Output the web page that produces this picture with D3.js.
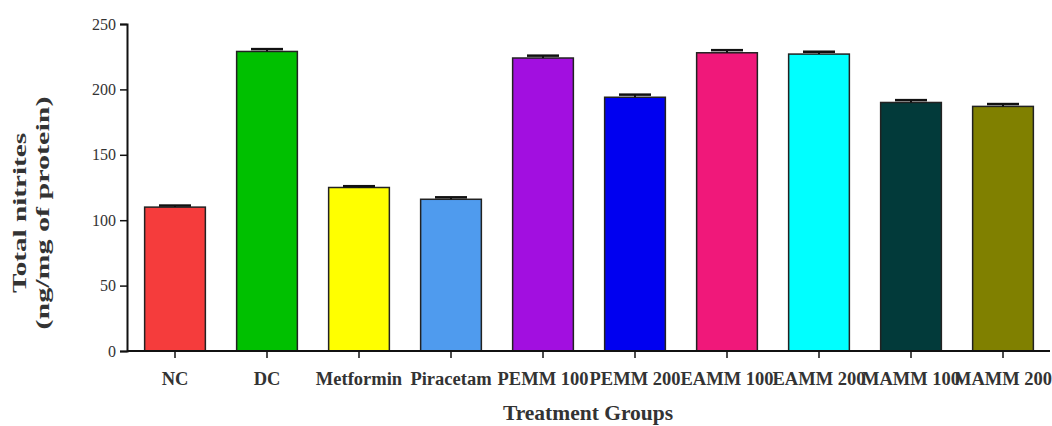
<!DOCTYPE html>
<html><head><meta charset="utf-8">
<script src="https://cdn.jsdelivr.net/npm/d3@7"></script>
<style>body{margin:0;background:#fff}svg{display:block}text{font-family:"Liberation Serif","Times New Roman",serif}</style>
</head><body>
<script>
const categories = ["NC","DC","Metformin","Piracetam","PEMM 100","PEMM 200","EAMM 100","EAMM 200","MAMM 100","MAMM 200"];
const values = [110, 229, 125, 116, 224, 194, 228, 227, 190, 187];
const errors = [1.2, 1.8, 1.0, 1.5, 1.8, 2.0, 2.0, 1.8, 1.8, 1.8];
const colors = ["#f53c3c","#00c000","#ffff00","#4f9bee","#a20fe0","#0000f0","#f0187a","#00ffff","#023a3a","#808000"];
const yTicks = [0,50,100,150,200,250];

const W=1052,H=426;
const svg=d3.select("body").append("svg").attr("width",W).attr("height",H);
const x=d3.scaleBand().domain(categories).range([129,1049]).paddingInner(0.34).paddingOuter(0.17);
const y=d3.scaleLinear().domain([0,250]).range([351,24]);

// bars
svg.selectAll("rect.bar").data(categories).join("rect")
  .attr("x",d=>x(d)).attr("width",x.bandwidth())
  .attr("y",(d,i)=>y(values[i])).attr("height",(d,i)=>y(0)-y(values[i]))
  .attr("fill",(d,i)=>colors[i]).attr("stroke","#222").attr("stroke-width",1.5);

// error bars
const cw=16;
categories.forEach((c,i)=>{
  const cx=x(c)+x.bandwidth()/2;
  svg.append("line").attr("x1",cx).attr("x2",cx).attr("y1",y(values[i])).attr("y2",y(values[i]+errors[i])).attr("stroke","#111").attr("stroke-width",2);
  svg.append("line").attr("x1",cx-cw).attr("x2",cx+cw).attr("y1",y(values[i]+errors[i])).attr("y2",y(values[i]+errors[i])).attr("stroke","#111").attr("stroke-width",2.5);
});

// y axis
const ya=svg.append("g").attr("transform","translate(127,0)")
  .call(d3.axisLeft(y).tickValues(yTicks).tickSize(7).tickPadding(4));
ya.select(".domain").attr("stroke","#111").attr("stroke-width",2);
ya.selectAll(".tick line").attr("stroke","#111").attr("stroke-width",1.5);
ya.selectAll(".tick text").attr("font-size",16).attr("fill","#333").style("font-family","'Liberation Serif',serif");

// x axis
const xa=svg.append("g").attr("transform","translate(0,351)")
  .call(d3.axisBottom(x).tickSize(7).tickSizeOuter(0).tickPadding(14));
xa.select(".domain").attr("d","M127,0H1050").attr("stroke","#111").attr("stroke-width",2);
xa.selectAll(".tick line").attr("stroke","#111").attr("stroke-width",1.5);
xa.selectAll(".tick text").attr("font-size",18.5).attr("font-weight","bold").attr("fill","#333").style("font-family","'Liberation Serif',serif");

// titles
svg.append("text").attr("x",588).attr("y",420).attr("text-anchor","middle")
  .attr("font-size",21.5).attr("font-weight","bold").attr("fill","#333").text("Treatment Groups");
const yt=svg.append("g").attr("transform","translate(0,213) rotate(-90)");
yt.append("text").attr("x",0).attr("y",26).attr("text-anchor","middle")
  .attr("font-size",19).attr("font-weight","bold").attr("fill","#333")
  .attr("textLength",160).attr("lengthAdjust","spacingAndGlyphs").text("Total nitrites");
yt.append("text").attr("x",0).attr("y",49).attr("text-anchor","middle")
  .attr("font-size",19).attr("font-weight","bold").attr("fill","#333")
  .attr("textLength",233).attr("lengthAdjust","spacingAndGlyphs").text("(ng/mg of protein)");
</script>
</body></html>
